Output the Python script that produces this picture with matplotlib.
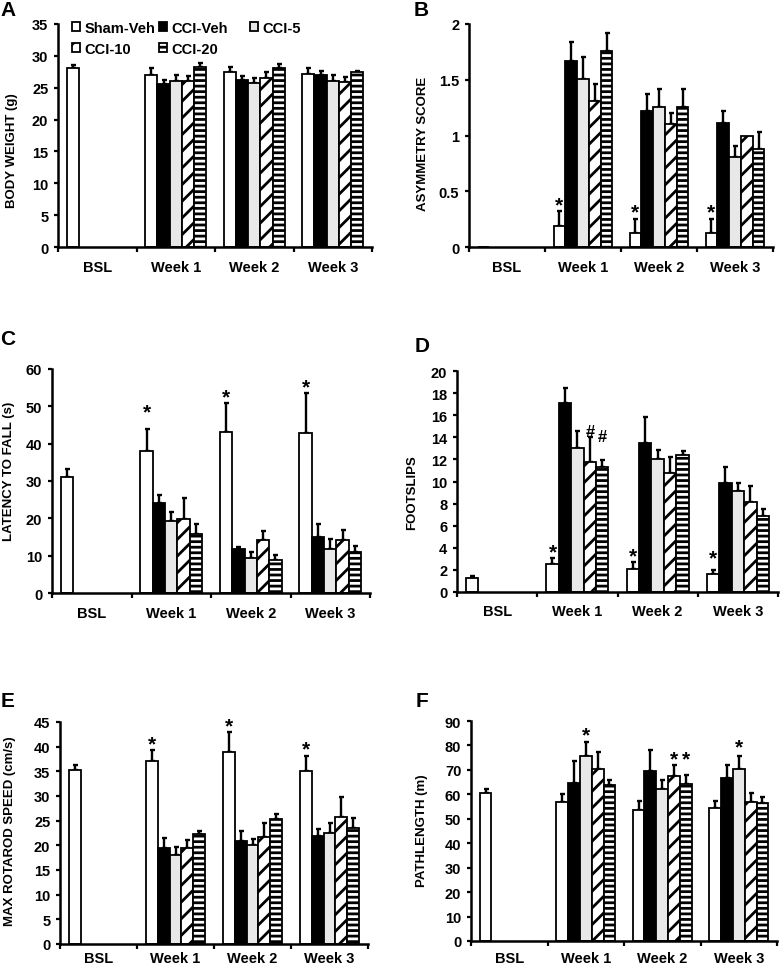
import numpy as np
import matplotlib
matplotlib.use("Agg")
import matplotlib.pyplot as plt

plt.rcParams['font.family'] = ['Liberation Sans', 'DejaVu Sans']
plt.rcParams['font.weight'] = 'bold'
plt.rcParams['hatch.linewidth'] = 2.0

nan = np.nan

groups = ["BSL", "Week 1", "Week 2", "Week 3"]
series = ["Sham-Veh", "CCI-Veh", "CCI-5", "CCI-10", "CCI-20"]

# each panel: rows = series, cols = groups (mean, upper SEM)
weight_mean = [[28.1, 27.06, 27.4, 27.2],
               [nan, 25.65, 26.2, 27.0],
               [nan, 26.0, 25.7, 26.1],
               [nan, 26.07, 26.5, 25.9],
               [nan, 28.3, 28.1, 27.4]]
weight_err = [[0.4, 1.0, 0.9, 0.85],
              [nan, 0.6, 0.65, 0.7],
              [nan, 1.0, 0.8, 0.9],
              [nan, 0.7, 1.0, 0.85],
              [nan, 0.6, 0.6, 0.3]]

asym_mean = [[0, 0.19, 0.125, 0.125],
             [nan, 1.67, 1.224, 1.113],
             [nan, 1.51, 1.254, 0.809],
             [nan, 1.31, 1.104, 1.0],
             [nan, 1.755, 1.254, 0.875]]
asym_err = [[0, 0.135, 0.13, 0.13],
            [nan, 0.17, 0.152, 0.111],
            [nan, 0.19, 0.164, 0.10],
            [nan, 0.15, 0.10, 0],
            [nan, 0.165, 0.164, 0.16]]

latency_mean = [[31.2, 38.0, 43.2, 42.96],
                [nan, 24.1, 11.85, 15.06],
                [nan, 19.2, 9.36, 11.85],
                [nan, 19.9, 14.1, 14.2],
                [nan, 15.9, 8.9, 10.96]]
latency_err = [[1.9, 5.9, 7.7, 10.6],
               [nan, 2.2, 0.45, 3.3],
               [nan, 2.5, 1.6, 2.65],
               [nan, 5.5, 2.4, 2.6],
               [nan, 2.5, 1.4, 1.6]]

foot_mean = [[1.3, 2.5, 2.05, 1.66],
             [nan, 17.07, 13.5, 9.9],
             [nan, 13.06, 12.07, 9.1],
             [nan, 11.76, 10.74, 8.14],
             [nan, 11.3, 12.37, 6.88]]
foot_err = [[0.12, 0.6, 0.65, 0.34],
            [nan, 1.43, 2.3, 1.4],
            [nan, 1.55, 0.78, 0.8],
            [nan, 2.3, 1.45, 1.45],
            [nan, 0.65, 0.43, 0.66]]

speed_mean = [[35.2, 37.0, 39.0, 35.1],
              [nan, 19.4, 20.9, 21.9],
              [nan, 18.0, 20.0, 22.4],
              [nan, 19.4, 21.7, 25.7],
              [nan, 22.2, 25.25, 23.6]]
speed_err = [[1.0, 2.3, 3.9, 3.1],
             [nan, 2.0, 2.0, 1.5],
             [nan, 1.6, 1.2, 2.2],
             [nan, 1.7, 2.9, 4.0],
             [nan, 0.8, 1.05, 1.85]]

path_mean = [[60.4, 56.9, 53.5, 54.6],
             [nan, 64.8, 69.6, 66.8],
             [nan, 75.7, 62.1, 70.3],
             [nan, 70.3, 67.3, 57.0],
             [nan, 64.0, 64.4, 56.6]]
path_err = [[1.7, 3.1, 3.8, 2.7],
            [nan, 8.7, 8.4, 5.2],
            [nan, 5.9, 3.8, 5.4],
            [nan, 7.1, 4.6, 3.7],
            [nan, 1.9, 3.5, 2.5]]

# significance marks: (group, series, symbol, extra lift in points)
asym_marks = [(1, 0, "*", 0), (2, 0, "*", 0), (3, 0, "*", 0)]
latency_marks = [(1, 0, "*", 8), (2, 0, "*", 0), (3, 0, "*", 0)]
foot_marks = [(1, 0, "*", 0), (2, 0, "*", 0), (3, 0, "*", 4),
              (1, 3, "#", 0), (1, 4, "#", 13)]
speed_marks = [(1, 0, "*", 0), (2, 0, "*", 0), (3, 0, "*", 0)]
path_marks = [(1, 2, "*", 0), (2, 3, "*", 0), (2, 4, "*", 7), (3, 2, "*", 2)]

fills = ["white", "black", "#e8e8e8", "white", "white"]
hatches = [None, None, None, "//", "---"]
W = 0.155
OFF = (1 - 5 * W) / 2


def draw_panel(ax, means, errs, ymax, ystep, ylabel, marks, xpad=9, fmt="{:g}"):
    bars = []
    for j, name in enumerate(series):
        x = np.arange(len(groups)) + OFF + (j + 0.5) * W
        m = np.array(means[j], float)
        e = np.array(errs[j], float)
        ok = ~np.isnan(m)
        b = ax.bar(x[ok], m[ok], W, color=fills[j], edgecolor="black",
                   hatch=hatches[j], linewidth=1.3, label=name, zorder=2)
        bars.append(b)
        ek = ok & (np.nan_to_num(e) > 0)
        ax.errorbar(x[ek], m[ek], yerr=[np.zeros(ek.sum()), e[ek]], fmt="none",
                    ecolor="black", elinewidth=1.7, capsize=1.8, capthick=1.7,
                    zorder=1)
    for g, s, sym, lift in marks:
        x = g + OFF + (s + 0.5) * W
        top = means[s][g] + errs[s][g]
        size = 15 if sym == "*" else 12
        ax.annotate(sym, (x, top), xytext=(0, 0.5 + lift), textcoords="offset points",
                    ha="center", va="baseline", fontsize=size, fontweight="bold")

    ax.set_xlim(0, len(groups))
    ax.set_xticks(np.arange(len(groups) + 1))
    ax.set_xticklabels([])
    ax.set_xticks(np.arange(len(groups)) + 0.5, minor=True)
    ax.set_xticklabels(groups, minor=True, fontsize=10.5, fontweight="bold")
    ax.tick_params(axis="x", which="minor", length=0, pad=xpad)
    ax.tick_params(axis="x", which="major", length=3.5, width=1.6, direction="out")

    ax.set_ylim(0, ymax)
    ticks = np.arange(0, ymax + ystep / 2, ystep)
    ax.set_yticks(ticks)
    ax.set_yticklabels([fmt.format(t) for t in ticks], fontsize=10.5, fontweight="bold")
    ax.tick_params(axis="y", length=3, width=1.6, pad=4)

    for side in ["top", "right"]:
        ax.spines[side].set_visible(False)
    for side in ["left", "bottom"]:
        ax.spines[side].set_linewidth(1.8)
    ax.set_ylabel(ylabel, fontsize=9.5, fontweight="bold")
    return bars


fig = plt.figure(figsize=(7.8, 9.7), dpi=100)
H = 970.0


def axes_px(left, top, right, bottom):
    return fig.add_axes([left / 780, 1 - bottom / H, (right - left) / 780, (bottom - top) / H])


axA = axes_px(58, 25, 372, 248)
axB = axes_px(469, 25, 773, 248)
axC = axes_px(52, 370, 370, 594)
axD = axes_px(457, 372, 778, 593)
axE = axes_px(60, 723, 368, 945)
axF = axes_px(471, 722, 777, 942)

barsA = draw_panel(axA, weight_mean, weight_err, 35, 5, "BODY WEIGHT (g)", [])
draw_panel(axB, asym_mean, asym_err, 2, 0.5, "ASYMMETRY SCORE", asym_marks)
draw_panel(axC, latency_mean, latency_err, 60, 10, "LATENCY TO FALL (s)", latency_marks)
draw_panel(axD, foot_mean, foot_err, 20, 2, "FOOTSLIPS", foot_marks)
draw_panel(axE, speed_mean, speed_err, 45, 5, "MAX ROTAROD SPEED (cm/s)", speed_marks, xpad=5)
draw_panel(axF, path_mean, path_err, 90, 10, "PATHLENGTH (m)", path_marks, xpad=7)

axA.yaxis.set_label_coords(-0.128, 0.435)
axB.yaxis.set_label_coords(-0.133, 0.466)
axC.yaxis.set_label_coords(-0.115, 0.547)
axD.yaxis.set_label_coords(-0.12, 0.452)
axE.yaxis.set_label_coords(-0.144, 0.513)
axF.yaxis.set_label_coords(-0.142, 0.507)

# legend columns laid out like the original (fixed column widths)
leg_cols = [[0, 3], [1, 4], [2]]
leg_x = [0.045, 0.322, 0.61]
for k, (idx, lx) in enumerate(zip(leg_cols, leg_x)):
    leg = axA.legend([barsA[i] for i in idx], [series[i] for i in idx],
                     loc="upper left", bbox_to_anchor=(lx, 1.015), frameon=False,
                     borderpad=0, borderaxespad=0, handlelength=0.55,
                     handleheight=0.55, handletextpad=0.3, labelspacing=0.5,
                     prop={"size": 10.5, "weight": "bold"})
    if k < len(leg_cols) - 1:
        axA.add_artist(leg)

for letter, px, py in [("A", 8, 10), ("B", 421, 10), ("C", 8, 340),
                       ("D", 422, 346), ("E", 8, 702), ("F", 422, 702)]:
    fig.text(px / 780, 1 - py / H, letter, fontsize=15, fontweight="bold",
             ha="center", va="center")

fig.savefig("out.png", dpi=100)
